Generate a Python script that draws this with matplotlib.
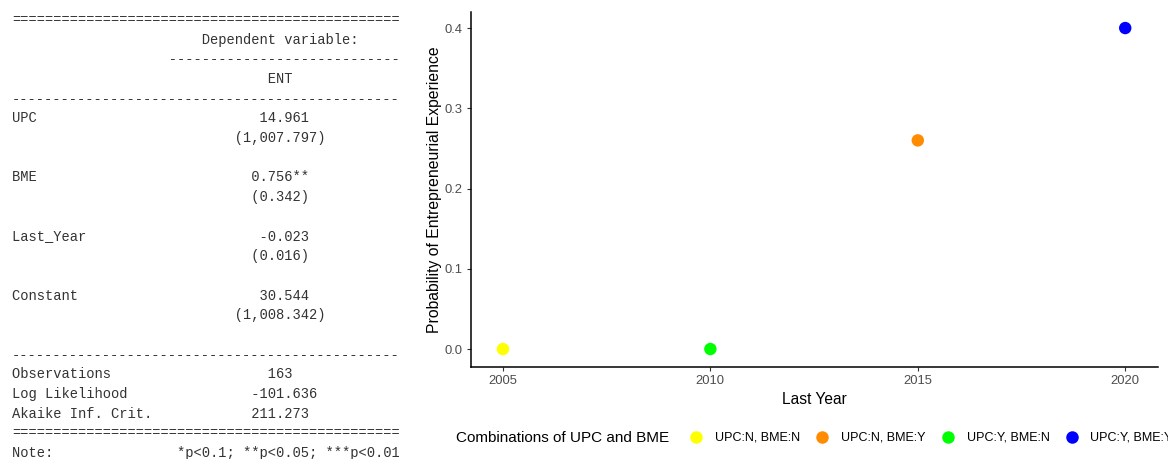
import matplotlib
matplotlib.use("Agg")
import matplotlib.pyplot as plt
from matplotlib.lines import Line2D

# --- data: regression table (stargazer style) ---
var_names = ["UPC", "BME", "Last_Year", "Constant"]
coefs = [14.961, 0.756, -0.023, 30.544]
stars = ["", "**", "", ""]
std_errs = [1007.797, 0.342, 0.016, 1008.342]
stat_names = ["Observations", "Log Likelihood", "Akaike Inf. Crit."]
stat_values = ["163", "-101.636", "211.273"]
dep_var = "ENT"
note_text = "*p<0.1; **p<0.05; ***p<0.01"

# --- data: predicted probabilities ---
groups = ["UPC:N, BME:N", "UPC:N, BME:Y", "UPC:Y, BME:N", "UPC:Y, BME:Y"]
last_year = [2005, 2015, 2010, 2020]
prob_ent = [0.0, 0.26, 0.0, 0.40]
group_colors = ["#FFFF00", "#FF8C00", "#00FF00", "#0000FF"]
x_ticks = [2005, 2010, 2015, 2020]
y_ticks = [0.0, 0.1, 0.2, 0.3, 0.4]

W, H = 1168, 459
fig = plt.figure(figsize=(W / 100, H / 100), dpi=100)

# --- left: table as monospace text ---
LAB_W, VAL_W = 19, 28


def cell(txt):
    left = (VAL_W - len(txt)) // 2
    return " " * left + txt


lines = ["=" * 47,
         " " * LAB_W + cell("Dependent variable:"),
         " " * LAB_W + "-" * VAL_W,
         " " * LAB_W + cell(dep_var),
         "-" * 47]
for name, c, s, se in zip(var_names, coefs, stars, std_errs):
    lines.append(name.ljust(LAB_W) + cell(f"{c:.3f}{s}"))
    lines.append(" " * LAB_W + cell(f"({se:,.3f})"))
    lines.append("")
lines.append("-" * 47)
for name, v in zip(stat_names, stat_values):
    lines.append(name.ljust(LAB_W) + cell(v))
lines.append("=" * 47)
lines.append("Note:".ljust(47 - len(note_text)) + note_text)

for i, ln in enumerate(lines):
    y_px = 20 + i * 19.68
    fig.text(12 / W, 1 - y_px / H, ln, family="Liberation Mono", fontsize=9.93,
             color="#333333", ha="left", va="center")

# --- right: scatter plot ---
ax = fig.add_axes([471 / W, 1 - 367 / H, (1158 - 471) / W, (367 - 12) / H])
for x, y, c in zip(last_year, prob_ent, group_colors):
    ax.scatter(x, y, s=80, color=c, edgecolors="none", zorder=3)

ax.set_xlim(2004.23, 2020.79)
ax.set_ylim(-0.0224, 0.42)
ax.set_xticks(x_ticks)
ax.set_yticks(y_ticks)
ax.set_yticklabels([f"{v:.1f}" for v in y_ticks])
for side in ["top", "right"]:
    ax.spines[side].set_visible(False)
for side in ["left", "bottom"]:
    ax.spines[side].set_color("black")
    ax.spines[side].set_linewidth(1.1)
ax.tick_params(length=3, width=0.8, color="#333333", labelcolor="#4D4D4D",
               labelsize=9.4, pad=3)
for lbl in ax.get_xticklabels() + ax.get_yticklabels():
    lbl.set_family("Liberation Sans")
ax.set_xlabel("Last Year", family="Liberation Sans", fontsize=11.2, labelpad=3)
ax.set_ylabel("Probability of Entrepreneurial Experience",
              family="Liberation Sans", fontsize=11.3, labelpad=2)

# --- legend at bottom, title on the left ---
fig.text(456 / W, 1 - 438 / H, "Combinations of UPC and BME",
         family="Liberation Sans", fontsize=11, ha="left", va="center")
handles = [Line2D([], [], marker="o", linestyle="none", markersize=9,
                  markerfacecolor=c, markeredgecolor="none") for c in group_colors]
fig.legend(handles, groups, ncol=4, loc="center left",
           bbox_to_anchor=(690 / W, 1 - 438 / H), frameon=False,
           prop={"family": "Liberation Sans", "size": 9},
           handlelength=1.0, handletextpad=1.0, columnspacing=1.28,
           borderpad=0, borderaxespad=0)

fig.savefig("out.png", dpi=100)
